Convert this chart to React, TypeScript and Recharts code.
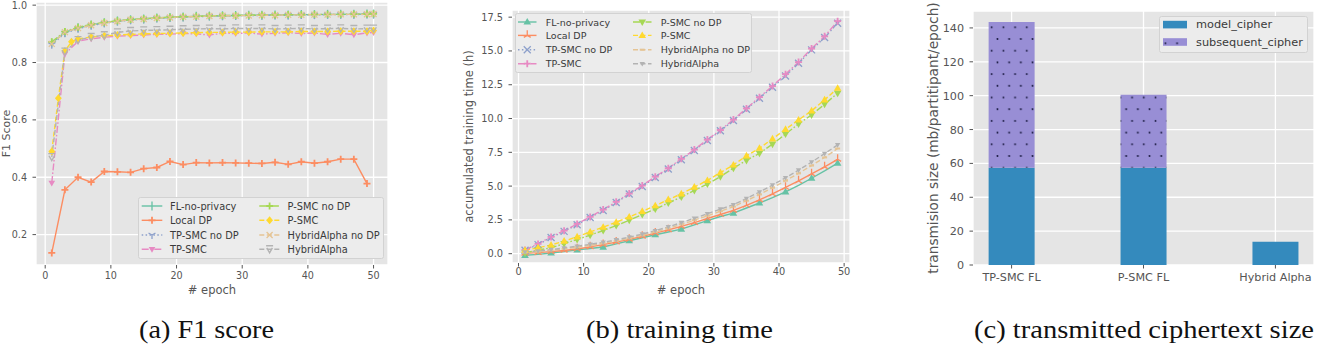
import React from 'react';
import { LineChart, Line, XAxis, YAxis, CartesianGrid, Legend, BarChart, Bar } from 'recharts';

const SANS = 'DejaVu Sans, Verdana, sans-serif';
const SERIF = 'Liberation Serif, Times New Roman, serif';
const TICK_COLOR = '#555555';
const PANEL_BG = '#e5e5e5';

// ---------- (a) F1 score per epoch ----------
const f1Epochs = [1, 3, 5, 7, 9, 11, 13, 15, 17, 19, 21, 23, 25, 27, 29, 31, 33, 35, 37, 39, 41, 43, 45, 47, 49, 50];
const f1LocalDpEpochs = [1, 3, 5, 7, 9, 11, 13, 15, 17, 19, 21, 23, 25, 27, 29, 31, 33, 35, 37, 39, 41, 43, 45, 47, 49];
const f1PsmcEpochs = [1, 2, 3, 4, 5, 7, 9, 11, 13, 15, 17, 19, 21, 23, 25, 27, 29, 31, 33, 35, 37, 39, 41, 43, 45, 47, 49, 50];

const f1FlNoPrivacy = [0.868, 0.905, 0.921, 0.931, 0.939, 0.945, 0.949, 0.952, 0.955, 0.957, 0.959, 0.961, 0.962, 0.963, 0.964, 0.965, 0.965, 0.966, 0.966, 0.967, 0.967, 0.968, 0.968, 0.968, 0.969, 0.969];
const f1LocalDp = [0.136, 0.356, 0.4, 0.383, 0.42, 0.419, 0.417, 0.43, 0.434, 0.455, 0.444, 0.451, 0.45, 0.451, 0.45, 0.449, 0.448, 0.452, 0.445, 0.454, 0.449, 0.454, 0.463, 0.463, 0.378];
const f1TpSmcNoDp = [0.862, 0.902, 0.918, 0.929, 0.937, 0.943, 0.948, 0.951, 0.954, 0.956, 0.958, 0.96, 0.961, 0.962, 0.963, 0.964, 0.964, 0.965, 0.965, 0.966, 0.966, 0.967, 0.967, 0.967, 0.968, 0.968];
const f1TpSmc = [0.38, 0.83, 0.874, 0.883, 0.888, 0.892, 0.894, 0.896, 0.898, 0.899, 0.901, 0.9, 0.896, 0.902, 0.901, 0.903, 0.899, 0.902, 0.904, 0.901, 0.903, 0.898, 0.902, 0.897, 0.903, 0.905];
const f1PsmcNoDp = [0.872, 0.908, 0.923, 0.933, 0.94, 0.946, 0.95, 0.953, 0.956, 0.958, 0.96, 0.961, 0.963, 0.964, 0.964, 0.965, 0.966, 0.966, 0.967, 0.967, 0.968, 0.968, 0.968, 0.969, 0.969, 0.97];
const f1Psmc = [0.49, 0.675, 0.84, 0.872, 0.882, 0.889, 0.893, 0.896, 0.898, 0.9, 0.901, 0.902, 0.903, 0.904, 0.905, 0.905, 0.906, 0.906, 0.907, 0.907, 0.907, 0.908, 0.908, 0.908, 0.909, 0.909, 0.909, 0.912];
const f1HybridNoDp = [0.865, 0.906, 0.92, 0.93, 0.938, 0.944, 0.949, 0.952, 0.955, 0.957, 0.959, 0.96, 0.962, 0.963, 0.963, 0.964, 0.965, 0.965, 0.966, 0.966, 0.967, 0.967, 0.968, 0.968, 0.968, 0.969];
const f1Hybrid = [0.47, 0.838, 0.878, 0.889, 0.895, 0.905, 0.91, 0.912, 0.913, 0.914, 0.916, 0.917, 0.918, 0.917, 0.919, 0.918, 0.919, 0.917, 0.918, 0.919, 0.917, 0.918, 0.919, 0.917, 0.918, 0.918];

const f1YTicks = [0.2, 0.4, 0.6, 0.8, 1.0];
const epochTicks = [0, 10, 20, 30, 40, 50];

// ---------- (b) accumulated training time (h) ----------
const timeEpochs = [1, 3, 5, 7, 9, 11, 13, 15, 17, 19, 21, 23, 25, 27, 29, 31, 33, 35, 37, 39, 41, 43, 45, 47, 49];
const timeFlNoPrivacy = [-0.12, -0.05, 0.05, 0.15, 0.28, 0.38, 0.49, 0.72, 0.96, 1.18, 1.4, 1.6, 1.82, 2.13, 2.45, 2.75, 3.0, 3.38, 3.75, 4.15, 4.58, 5.05, 5.58, 6.12, 6.7];
const timeLocalDp = [0.02, 0.08, 0.15, 0.24, 0.35, 0.5, 0.67, 0.85, 1.06, 1.28, 1.52, 1.76, 2.02, 2.3, 2.6, 2.9, 3.2, 3.58, 3.98, 4.42, 4.9, 5.38, 5.9, 6.42, 6.98];
const timeTpSmcNoDp = [0.25, 0.67, 1.2, 1.65, 2.14, 2.68, 3.2, 3.79, 4.41, 4.97, 5.64, 6.26, 6.95, 7.64, 8.37, 9.09, 9.85, 10.69, 11.5, 12.32, 13.15, 14.09, 15.08, 16.0, 17.05];
const timeTpSmc = [0.28, 0.72, 1.24, 1.7, 2.2, 2.72, 3.26, 3.84, 4.45, 5.04, 5.7, 6.32, 7.02, 7.7, 8.44, 9.15, 9.92, 10.75, 11.58, 12.4, 13.28, 14.18, 15.18, 16.08, 17.2];
const timePsmcNoDp = [0.05, 0.27, 0.44, 0.74, 1.05, 1.37, 1.71, 2.08, 2.47, 2.9, 3.3, 3.75, 4.19, 4.68, 5.15, 5.7, 6.33, 6.9, 7.43, 8.1, 8.85, 9.6, 10.27, 11.06, 11.87];
const timePsmc = [0.25, 0.44, 0.64, 0.93, 1.25, 1.61, 1.96, 2.33, 2.72, 3.13, 3.55, 4.0, 4.43, 4.93, 5.42, 6.0, 6.57, 7.24, 7.8, 8.5, 9.2, 9.9, 10.57, 11.38, 12.24];
const timeHybridNoDp = [0.08, 0.15, 0.25, 0.36, 0.48, 0.62, 0.77, 0.94, 1.14, 1.36, 1.6, 1.87, 2.17, 2.48, 2.8, 3.14, 3.48, 3.92, 4.38, 4.88, 5.4, 5.94, 6.52, 7.12, 7.78];
const timeHybrid = [0.12, 0.2, 0.3, 0.42, 0.55, 0.69, 0.84, 1.02, 1.22, 1.45, 1.7, 1.98, 2.3, 2.62, 2.95, 3.3, 3.62, 4.08, 4.56, 5.08, 5.62, 6.18, 6.78, 7.4, 8.05];

const timeYTicks = [0, 2.5, 5, 7.5, 10, 12.5, 15, 17.5];

// ---------- (c) transmitted ciphertext size ----------
const cipherSchemes = ['TP-SMC FL', 'P-SMC FL', 'Hybrid Alpha'];
const modelCipher = [57.5, 57.5, 13.8];
const subsequentCipher = [86, 43, 0];
const cipherYTicks = [0, 20, 40, 60, 80, 100, 120, 140];

const captions = ['(a) F1 score', '(b) training time', '(c) transmitted ciphertext size'];

// ---------- helpers ----------
type MarkerShape =
  | 'vline' | 'hbar' | 'plus' | 'x' | 'triUp' | 'triDown'
  | 'triangleUp' | 'triangleDown' | 'diamond' | 'barTriDown';

type Pt = { x: number; y: number };
const toPoints = (xs: number[], ys: number[]): Pt[] => xs.map((x, i) => ({ x, y: ys[i] }));

function Marker({ shape, x, y, color, r }: { shape: MarkerShape; x: number; y: number; color: string; r: number }) {
  const sw = 1.3;
  switch (shape) {
    case 'vline':
      return <line x1={x} y1={y - r} x2={x} y2={y + r} stroke={color} strokeWidth={sw} />;
    case 'hbar':
      return <line x1={x - r} y1={y} x2={x + r} y2={y} stroke={color} strokeWidth={2} />;
    case 'plus':
      return <path d={`M${x - r},${y}H${x + r}M${x},${y - r}V${y + r}`} stroke={color} strokeWidth={1.8} fill="none" />;
    case 'x':
      return <path d={`M${x - r},${y - r}L${x + r},${y + r}M${x - r},${y + r}L${x + r},${y - r}`} stroke={color} strokeWidth={sw} fill="none" />;
    case 'triUp': {
      const a = r * 0.87, b = r * 0.5;
      return <path d={`M${x},${y}V${y - r * 1.3}M${x},${y}L${x - a},${y + b}M${x},${y}L${x + a},${y + b}`} stroke={color} strokeWidth={sw} fill="none" />;
    }
    case 'triDown': {
      const a = r * 0.87, b = r * 0.5;
      return <path d={`M${x},${y}V${y + r}M${x},${y}L${x - a},${y - b}M${x},${y}L${x + a},${y - b}`} stroke={color} strokeWidth={sw} fill="none" />;
    }
    case 'triangleUp':
      return <path d={`M${x},${y - r}L${x + r * 0.95},${y + r * 0.65}L${x - r * 0.95},${y + r * 0.65}Z`} fill={color} />;
    case 'triangleDown':
      return <path d={`M${x},${y + r}L${x + r * 0.95},${y - r * 0.65}L${x - r * 0.95},${y - r * 0.65}Z`} fill={color} />;
    case 'diamond':
      return <path d={`M${x},${y - r}L${x + r * 0.85},${y}L${x},${y + r}L${x - r * 0.85},${y}Z`} fill={color} />;
    case 'barTriDown':
      return (
        <path
          d={`M${x - r},${y - r}H${x + r}M${x - r * 0.8},${y - r * 0.4}L${x},${y + r}L${x + r * 0.8},${y - r * 0.4}`}
          stroke={color} strokeWidth={1.4} fill="none"
        />
      );
    default:
      return null;
  }
}

const dotRenderer = (shape: MarkerShape, color: string, r: number, every = 1) => (props: any) => {
  const { cx, cy, index } = props;
  if (typeof cx !== 'number' || typeof cy !== 'number' || index % every !== 0) return <g key={`d${index}`} />;
  return (
    <g key={`d${index}`}>
      <Marker shape={shape} x={cx} y={cy} color={color} r={r} />
    </g>
  );
};

type SeriesDef = {
  name: string;
  color: string;
  dash?: string;
  shape: MarkerShape;
  r: number;
  every?: number;
  points: Pt[];
};

const DOTTED = '1.5 2.4';
const DASHDOT = '7 2 1.6 2';
const DASHED = '5 2.5';

const f1Series: SeriesDef[] = [
  { name: 'FL-no-privacy', color: '#66c2a5', shape: 'vline', r: 4.5, points: toPoints(f1Epochs, f1FlNoPrivacy) },
  { name: 'Local DP', color: '#fc8d62', shape: 'plus', r: 3.5, points: toPoints(f1LocalDpEpochs, f1LocalDp) },
  { name: 'TP-SMC no DP', color: '#8da0cb', dash: DOTTED, shape: 'triDown', r: 4, points: toPoints(f1Epochs, f1TpSmcNoDp) },
  { name: 'TP-SMC', color: '#e78ac3', dash: DASHDOT, shape: 'triangleDown', r: 3.5, points: toPoints(f1Epochs, f1TpSmc) },
  { name: 'P-SMC no DP', color: '#a6d854', dash: DASHDOT, shape: 'plus', r: 3.5, points: toPoints(f1Epochs, f1PsmcNoDp) },
  { name: 'P-SMC', color: '#ffd92f', dash: DASHED, shape: 'diamond', r: 4, points: toPoints(f1PsmcEpochs, f1Psmc) },
  { name: 'HybridAlpha no DP', color: '#e5c494', dash: DASHED, shape: 'x', r: 3, points: toPoints(f1Epochs, f1HybridNoDp) },
  { name: 'HybridAlpha', color: '#b3b3b3', dash: DASHED, shape: 'barTriDown', r: 3.5, points: toPoints(f1Epochs, f1Hybrid) },
];

const timeSeries: SeriesDef[] = [
  { name: 'FL-no-privacy', color: '#66c2a5', shape: 'triangleUp', r: 4, every: 2, points: toPoints(timeEpochs, timeFlNoPrivacy) },
  { name: 'Local DP', color: '#fc8d62', shape: 'triUp', r: 4, points: toPoints(timeEpochs, timeLocalDp) },
  { name: 'TP-SMC no DP', color: '#8da0cb', dash: DOTTED, shape: 'x', r: 3.5, points: toPoints(timeEpochs, timeTpSmcNoDp) },
  { name: 'TP-SMC', color: '#e78ac3', dash: DASHDOT, shape: 'plus', r: 3.5, points: toPoints(timeEpochs, timeTpSmc) },
  { name: 'P-SMC no DP', color: '#a6d854', dash: DASHDOT, shape: 'triangleDown', r: 4, points: toPoints(timeEpochs, timePsmcNoDp) },
  { name: 'P-SMC', color: '#ffd92f', dash: DASHED, shape: 'triangleUp', r: 4, points: toPoints(timeEpochs, timePsmc) },
  { name: 'HybridAlpha no DP', color: '#e5c494', dash: DASHED, shape: 'hbar', r: 2.5, points: toPoints(timeEpochs, timeHybridNoDp) },
  { name: 'HybridAlpha', color: '#b3b3b3', dash: DASHED, shape: 'triangleDown', r: 2.8, points: toPoints(timeEpochs, timeHybrid) },
];

const cipherRows = cipherSchemes.map((name, i) => ({
  pos: i,
  name,
  model: modelCipher[i],
  subsequent: subsequentCipher[i],
}));

type LegendLayout = {
  width: number;
  height: number;
  rows: number[];
  cols: number[];
  handle: number;
  textDx: number;
  fontSize: number;
};

function LineLegend({ series, layout }: { series: SeriesDef[]; layout: LegendLayout }) {
  const { width, height, rows, cols, handle, textDx, fontSize } = layout;
  return (
    <svg width={width} height={height} style={{ display: 'block', overflow: 'visible' }}>
      <rect x={0.5} y={0.5} width={width - 1} height={height - 1} rx={2} fill="#ececec" stroke="#d2d2d2" />
      {series.map((s, i) => {
        const x0 = cols[Math.floor(i / rows.length)];
        const y = rows[i % rows.length];
        return (
          <g key={s.name}>
            <line x1={x0} x2={x0 + handle} y1={y} y2={y} stroke={s.color} strokeWidth={1.4} strokeDasharray={s.dash} />
            <Marker shape={s.shape} x={x0 + handle / 2} y={y} color={s.color} r={s.r} />
            <text x={x0 + textDx} y={y} dominantBaseline="central" fontFamily={SANS} fontSize={fontSize} fill="#3a3a3a">
              {s.name}
            </text>
          </g>
        );
      })}
    </svg>
  );
}

function CipherLegend() {
  const items = [
    { name: 'model_cipher', fill: '#348abd', y: 8.6 },
    { name: 'subsequent_cipher', fill: 'url(#dotHatch)', y: 26 },
  ];
  return (
    <svg width={149} height={37} style={{ display: 'block' }}>
      <rect x={0.5} y={0.5} width={148} height={36} rx={2} fill="#ececec" stroke="#d2d2d2" />
      {items.map((it) => (
        <g key={it.name}>
          <rect x={4} y={it.y - 3.8} width={24} height={7.6} fill={it.fill} />
          <text x={37} y={it.y} dominantBaseline="central" fontFamily={SANS} fontSize={11.3} fill="#3a3a3a">
            {it.name}
          </text>
        </g>
      ))}
    </svg>
  );
}

const yTitle = (text: string, dx: number, fontSize: number) => (props: any) => {
  const vb = props.viewBox || { x: 0, y: 0, width: 0, height: 0 };
  const x = vb.x + dx;
  const y = vb.y + vb.height / 2;
  return (
    <text
      x={x} y={y} transform={`rotate(-90 ${x} ${y})`}
      textAnchor="middle" dominantBaseline="central"
      fill={TICK_COLOR} fontFamily={SANS} fontSize={fontSize}
    >
      {text}
    </text>
  );
};

const xTitle = (text: string, dy: number, fontSize: number) => (props: any) => {
  const vb = props.viewBox || { x: 0, y: 0, width: 0, height: 0 };
  const x = vb.x + vb.width / 2;
  const y = vb.y + dy;
  return (
    <text x={x} y={y} textAnchor="middle" dominantBaseline="central" fill={TICK_COLOR} fontFamily={SANS} fontSize={fontSize}>
      {text}
    </text>
  );
};

const tickStyle = (fontSize: number) => ({ fill: TICK_COLOR, fontSize, fontFamily: SANS });
const tickLineStyle = { stroke: TICK_COLOR, strokeWidth: 1 };

function F1Panel() {
  return (
    <LineChart width={400} height={300} margin={{ top: 2, right: 12, bottom: 0, left: 0 }}>
      <CartesianGrid fill={PANEL_BG} stroke="#ffffff" strokeWidth={1.3} />
      <XAxis
        dataKey="x" type="number" domain={[-1.4, 52.2]} ticks={epochTicks} allowDataOverflow
        height={35} axisLine={false} tickSize={3.5} tickMargin={4} tickLine={tickLineStyle} tick={tickStyle(9.6)}
        label={{ content: xTitle('# epoch', 24.5, 11.5) }}
      />
      <YAxis
        type="number" domain={[0.094, 1.011]} ticks={f1YTicks} allowDataOverflow
        width={36} axisLine={false} tickSize={3.5} tickMargin={5.5} tickLine={tickLineStyle} tick={tickStyle(9.6)}
        tickFormatter={(v: number) => v.toFixed(1)}
        label={{ content: yTitle('F1 Score', 6, 11) }}
      />
      {f1Series.map((s) => (
        <Line
          key={s.name} name={s.name} data={s.points} dataKey="y" type="linear"
          stroke={s.color} strokeWidth={1.4} strokeDasharray={s.dash}
          dot={dotRenderer(s.shape, s.color, s.r, s.every)} activeDot={false}
          isAnimationActive={false}
        />
      ))}
      <Legend
        layout="horizontal" verticalAlign="middle" align="center"
        wrapperStyle={{ left: 138, top: 197, width: 246, height: 62 }}
        content={() => (
          <LineLegend
            series={f1Series}
            layout={{ width: 246, height: 62, rows: [9, 23.3, 38, 52.3], cols: [3.7, 121.3], handle: 20.6, textDx: 28.3, fontSize: 9.8 }}
          />
        )}
      />
    </LineChart>
  );
}

function TimePanel() {
  return (
    <LineChart width={410} height={300} margin={{ top: 10, right: 10, bottom: 0, left: 0 }}>
      <CartesianGrid fill={PANEL_BG} stroke="#ffffff" strokeWidth={1.3} />
      <XAxis
        dataKey="x" type="number" domain={[-1.0, 50.9]} ticks={epochTicks} allowDataOverflow
        height={37} axisLine={false} tickSize={3.5} tickMargin={2} tickLine={tickLineStyle} tick={tickStyle(9.8)}
        label={{ content: xTitle('# epoch', 26.5, 11.5) }}
      />
      <YAxis
        type="number" domain={[-0.69, 18.03]} ticks={timeYTicks} allowDataOverflow
        width={62} axisLine={false} tickSize={3.5} tickMargin={5.5} tickLine={tickLineStyle} tick={tickStyle(9.8)}
        tickFormatter={(v: number) => v.toFixed(1)}
        label={{ content: yTitle('accumulated training time (h)', 19, 11.5) }}
      />
      {timeSeries.map((s) => (
        <Line
          key={s.name} name={s.name} data={s.points} dataKey="y" type="linear"
          stroke={s.color} strokeWidth={1.4} strokeDasharray={s.dash}
          dot={dotRenderer(s.shape, s.color, s.r, s.every)} activeDot={false}
          isAnimationActive={false}
        />
      ))}
      <Legend
        layout="horizontal" verticalAlign="middle" align="center"
        wrapperStyle={{ left: 65, top: 13.3, width: 237, height: 60 }}
        content={() => (
          <LineLegend
            series={timeSeries}
            layout={{ width: 237, height: 60, rows: [9, 22.4, 36.7, 50.7], cols: [3, 118], handle: 18.5, textDx: 27.7, fontSize: 9.5 }}
          />
        )}
      />
    </LineChart>
  );
}

function CipherPanel() {
  return (
    <BarChart width={449} height={300} data={cipherRows} margin={{ top: 11, right: 15, bottom: 0, left: 0 }}>
      <CartesianGrid fill={PANEL_BG} stroke="#ffffff" strokeWidth={1.3} />
      <XAxis
        dataKey="pos" type="number" domain={[-0.2925, 2.2925]} ticks={[0, 1, 2]} allowDataOverflow
        height={35} axisLine={false} tickSize={3.5} tickMargin={4.5} tickLine={tickLineStyle} tick={tickStyle(11.2)}
        tickFormatter={(v: number) => cipherSchemes[v] ?? ''}
      />
      <YAxis
        type="number" domain={[0, 150]} ticks={cipherYTicks} allowDataOverflow
        width={93} axisLine={false} tickSize={3.5} tickMargin={5.5} tickLine={tickLineStyle} tick={tickStyle(11.2)}
        label={{ content: yTitle('transmision size (mb/partitipant/epoch)', 52.5, 13.7) }}
      />
      <Bar dataKey="model" name="model_cipher" stackId="cipher" fill="#348abd" barSize={46} isAnimationActive={false} />
      <Bar dataKey="subsequent" name="subsequent_cipher" stackId="cipher" fill="url(#dotHatch)" barSize={46} isAnimationActive={false} />
      <Legend
        layout="horizontal" verticalAlign="middle" align="center"
        wrapperStyle={{ left: 279, top: 15.7, width: 149, height: 37 }}
        content={() => <CipherLegend />}
      />
    </BarChart>
  );
}

const panelBoxes = [
  { left: 0, top: 0 },
  { left: 450, top: 0 },
  { left: 880, top: 0 },
];

const captionBoxes = [
  { x: 139, width: 135 },
  { x: 586, width: 187 },
  { x: 974, width: 340 },
];

export default function App() {
  return (
    <div style={{ position: 'absolute', left: 0, top: 0, width: 1329, height: 360, background: '#ffffff', overflow: 'hidden' }}>
      <svg width={0} height={0} style={{ position: 'absolute' }}>
        <defs>
          <pattern id="dotHatch" patternUnits="userSpaceOnUse" x={0} y={0} width={11.7} height={23.4}>
            <rect x={0} y={0} width={11.7} height={23.4} fill="#988ed5" />
            <circle cx={6.4} cy={3.9} r={0.95} fill="#1d1d45" />
            <circle cx={0.5} cy={15.6} r={0.95} fill="#1d1d45" />
            <circle cx={12.2} cy={15.6} r={0.95} fill="#1d1d45" />
          </pattern>
        </defs>
      </svg>
      <div style={{ position: 'absolute', ...panelBoxes[0] }}>
        <F1Panel />
      </div>
      <div style={{ position: 'absolute', ...panelBoxes[1] }}>
        <TimePanel />
      </div>
      <div style={{ position: 'absolute', ...panelBoxes[2] }}>
        <CipherPanel />
      </div>
      <svg width={1329} height={60} style={{ position: 'absolute', left: 0, top: 300, pointerEvents: 'none' }}>
        {captions.map((c, i) => (
          <text
            key={c} x={captionBoxes[i].x} y={38}
            textLength={captionBoxes[i].width} lengthAdjust="spacingAndGlyphs"
            fontFamily={SERIF} fontSize={25} fill="#111111"
          >
            {c}
          </text>
        ))}
      </svg>
    </div>
  );
}
